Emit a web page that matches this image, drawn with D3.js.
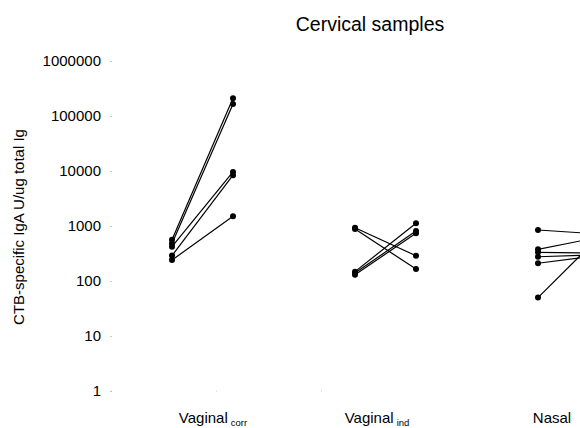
<html lang="en">
  <head>
    <meta charset="utf-8">
    <script src="https://d3js.org/d3.v7.min.js"></script>
    <style type="text/css">
body {
  margin: 0;
  font-family: "Liberation Sans", Arial, sans-serif;
  background: white;
}
    </style>
  </head>
  <body>
    <div id="chart"></div>
    <script type="text/javascript">
// group labels (main text + subscript)
const groupNames = ["Vaginal", "Vaginal", "Nasal"];
const groupSubs = ["corr", "ind", ""];

// paired values, before -> after, one pair per subject
const corrBefore = [560, 480, 420, 290, 240];
const corrAfter = [210000, 165000, 9600, 8400, 1510];
const indBefore = [931, 882, 148, 140, 130];
const indAfter = [288, 165, 1120, 811, 736];
const nasalBefore = [846, 377, 332, 276, 210, 50];
const nasalAfter = [716, 625, 320, 300, 290, 630];

const yTicks = [1, 10, 100, 1000, 10000, 100000, 1000000];

const width = 580;
const height = 428;

const pairs = [
  {before: corrBefore, after: corrAfter},
  {before: indBefore, after: indAfter},
  {before: nasalBefore, after: nasalAfter}
];

// slot = group*3 + time (0 before, 1 after)
let x = d3.scaleLinear()
  .domain([0, 7])
  .range([172, 599]);

let y = d3.scaleLog()
  .domain([1, 1000000])
  .range([391, 61]);

let labelX = d3.scaleOrdinal()
  .domain(d3.range(groupNames.length))
  .range([213, 377, 552]);

let svg = d3.select("#chart").append("svg")
  .attr("width", width)
  .attr("height", height);

svg.append("text")
  .attr("x", 370)
  .attr("y", 31)
  .attr("text-anchor", "middle")
  .attr("font-size", 19.5)
  .text("Cervical samples");

// faint y axis
let yAxis = svg.append("g")
  .attr("transform", "translate(112,0)")
  .call(d3.axisLeft(y).tickValues(yTicks).tickSize(2).tickPadding(9)
    .tickFormat(d3.format("d")));
yAxis.select(".domain").remove();
yAxis.selectAll(".tick line").attr("stroke", "#c8c8c8");
yAxis.selectAll(".tick text")
  .attr("font-size", 15)
  .attr("font-family", "Liberation Sans, Arial, sans-serif")
  .attr("fill", "#000");

// faint dotted x axis
svg.append("line")
  .attr("x1", 111).attr("x2", 350)
  .attr("y1", y(1)).attr("y2", y(1))
  .attr("stroke", "#c8c8c8")
  .attr("stroke-dasharray", "1,104");

svg.append("text")
  .attr("transform", "translate(24,227) rotate(-90)")
  .attr("text-anchor", "middle")
  .attr("font-size", 15)
  .text("CTB-specific IgA U/ug total Ig");

// group labels
let labels = svg.append("g")
  .selectAll("text")
  .data(groupNames)
  .join("text")
    .attr("x", (d, i) => labelX(i))
    .attr("y", 423)
    .attr("text-anchor", "middle")
    .attr("font-size", 15);
labels.append("tspan").text(d => d);
labels.append("tspan")
  .attr("font-size", 9.5)
  .attr("dx", 3)
  .attr("dy", 3)
  .text((d, i) => groupSubs[i]);

// lines and points
pairs.forEach((p, g) => {
  let segs = p.before.map((v, i) => [v, p.after[i]]);
  let grp = svg.append("g");
  grp.selectAll("line")
    .data(segs)
    .join("line")
      .attr("x1", x(g * 3))
      .attr("x2", x(g * 3 + 1))
      .attr("y1", d => y(d[0]))
      .attr("y2", d => y(d[1]))
      .attr("stroke", "#000")
      .attr("stroke-width", 1.2);
  grp.selectAll("circle.b")
    .data(p.before)
    .join("circle")
      .attr("class", "b")
      .attr("cx", x(g * 3))
      .attr("cy", d => y(d))
      .attr("r", 3);
  grp.selectAll("circle.a")
    .data(p.after)
    .join("circle")
      .attr("class", "a")
      .attr("cx", x(g * 3 + 1))
      .attr("cy", d => y(d))
      .attr("r", 3);
});
    </script>
  </body>
</html>
